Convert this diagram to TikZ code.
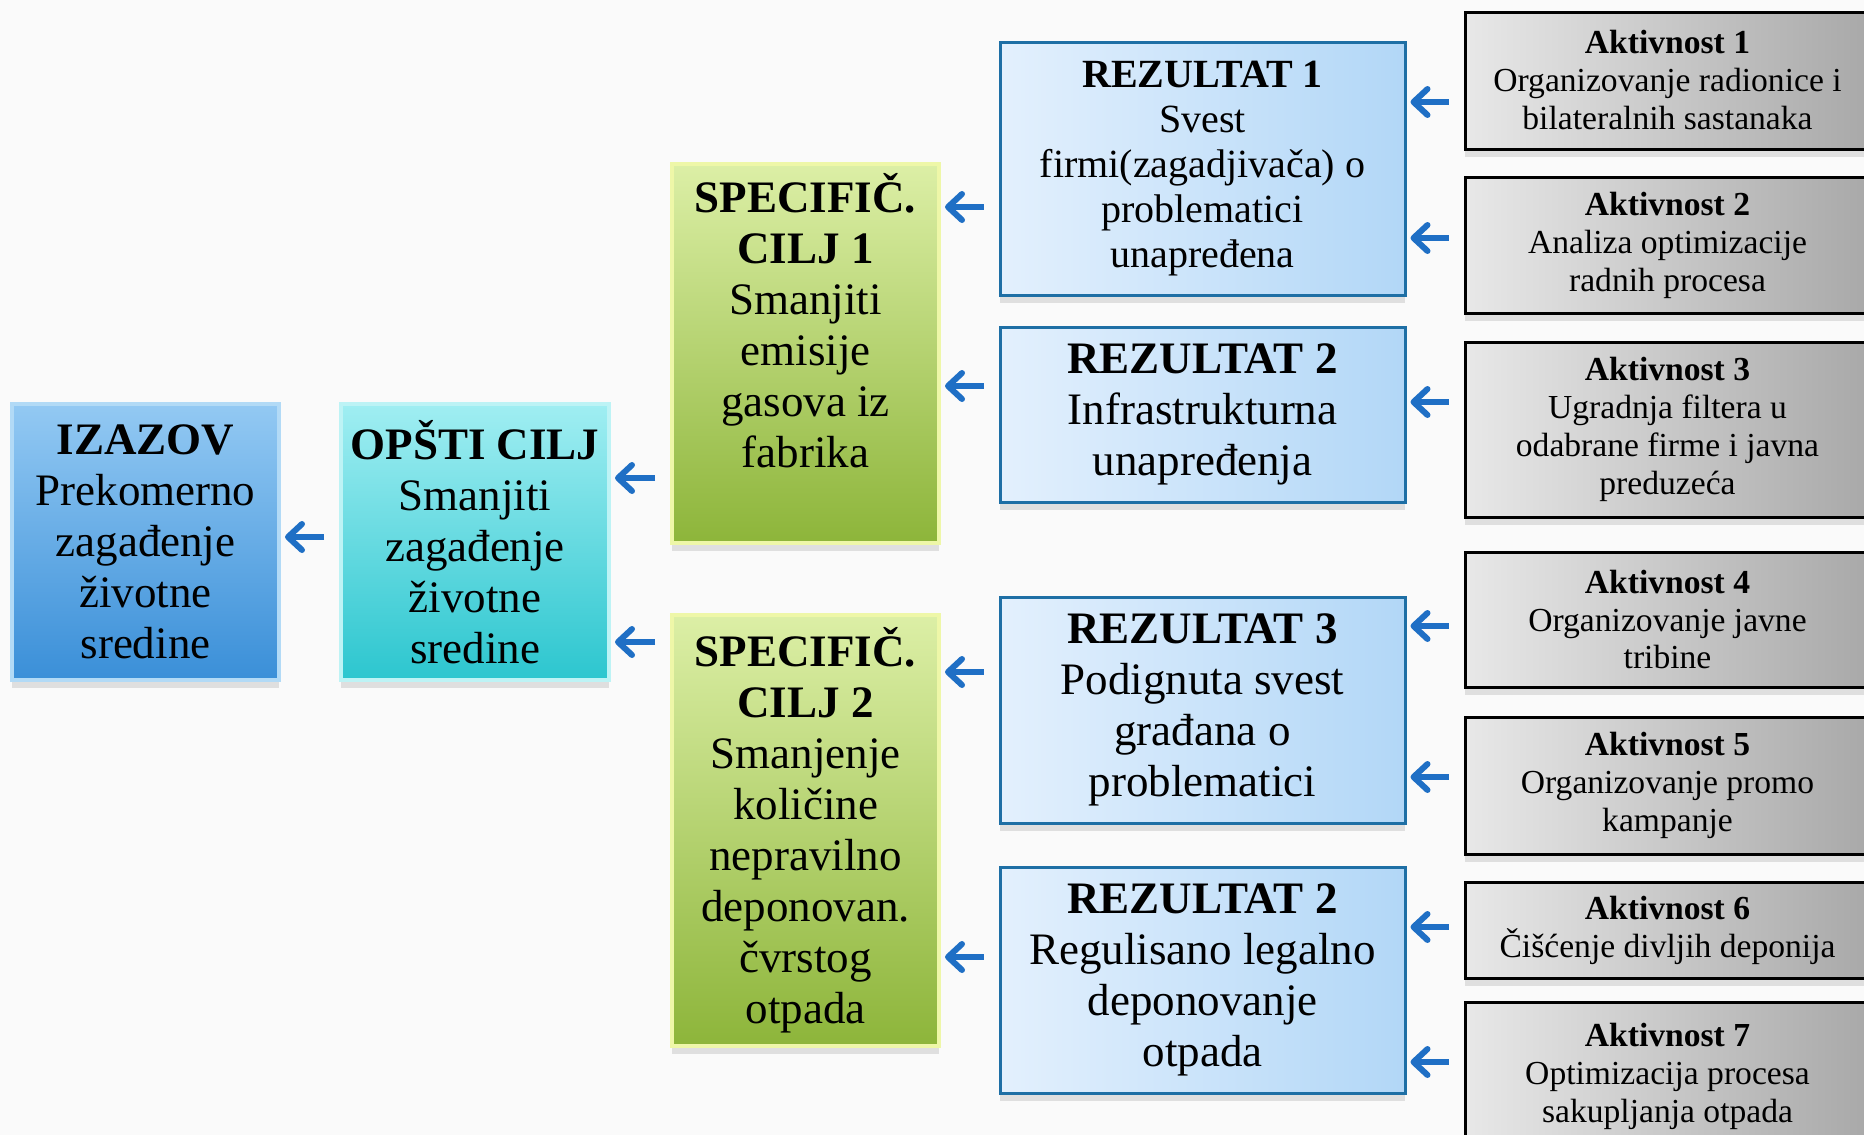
\documentclass[tikz,border=0pt]{standalone}
\usepackage{fontspec}
\setmainfont{Liberation Serif}
\usepackage{tikz}
\usetikzlibrary{positioning,shadows,arrows.meta}

\definecolor{arrowblue}{HTML}{1F6FC5}
\definecolor{izTop}{HTML}{93C9F3}
\definecolor{izBot}{HTML}{3A8FD8}
\definecolor{izGlow}{HTML}{B2DAF6}
\definecolor{opTop}{HTML}{A0EEF2}
\definecolor{opBot}{HTML}{2CC6CF}
\definecolor{opGlow}{HTML}{BDF3F5}
\definecolor{scTop}{HTML}{DCEFA6}
\definecolor{scBot}{HTML}{8DB53A}
\definecolor{scGlow}{HTML}{EEF7A8}
\definecolor{rezLeft}{HTML}{E3F0FD}
\definecolor{rezRight}{HTML}{B2D7F7}
\definecolor{rezLine}{HTML}{1E6FA5}

\begin{document}
\begin{tikzpicture}[x=0.5pt, y=-0.5pt,
    box/.style={align=center, inner sep=0pt,
        drop shadow={shadow xshift=0pt, shadow yshift=-4pt, opacity=0.22}},
    big/.style={font=\fontsize{22.5}{25.5}\selectfont},
    izbox/.style={box, big, top color=izTop, bottom color=izBot, draw=izGlow, line width=2pt},
    opbox/.style={box, big, top color=opTop, bottom color=opBot, draw=opGlow, line width=2pt},
    scbox/.style={box, big, top color=scTop, bottom color=scBot, draw=scGlow, line width=2pt},
    rezbox/.style={box, big, left color=rezLeft, right color=rezRight, draw=rezLine, line width=1.5pt,
        minimum width=202.5pt},
    aktbox/.style={box, font=\fontsize{16.8}{19}\selectfont, left color=gray!18, middle color=gray!5,
        right color=gray!68, draw=black, line width=1.5pt, minimum width=202.5pt},
    arr/.style={draw=arrowblue, line width=3pt, -{Straight Barb[length=7pt, width=13pt, round]},
        shorten <=7.5pt, shorten >=2pt}]

    % Page frame
    \clip (0,0) rectangle (1864,1135);
    \fill[gray!4] (0,0) rectangle (1864,1135);

    % Problem and overall goal
    \node[izbox, minimum width=133.5pt, minimum height=138pt] (iz) at (145.5,542)
        {\textbf{IZAZOV}\\Prekomerno\\zagađenje\\životne\\sredine};
    \node[opbox, minimum width=134pt, minimum height=138pt] (op) at (475,542)
        {\textbf{OPŠTI CILJ}\\Smanjiti\\zagađenje\\životne\\sredine};

    % Specific goals
    \node[scbox, minimum width=133.5pt, minimum height=189.5pt] (sc1) at (805.5,353.5)
        {\textbf{SPECIFIČ.}\\\textbf{CILJ 1}\\Smanjiti\\emisije\\gasova iz\\fabrika\\ \strut};
    \node[scbox, minimum width=133.5pt, minimum height=215.5pt] (sc2) at (805.5,830.5)
        {\textbf{SPECIFIČ.}\\\textbf{CILJ 2}\\Smanjenje\\količine\\nepravilno\\deponovan.\\čvrstog\\otpada};

    % Results
    \node[rezbox, minimum height=126.5pt, font=\fontsize{20}{22.5}\selectfont] (r1) at (1202.5,168.5)
        {\textbf{REZULTAT 1}\\Svest\\firmi(zagadjivača) o\\problematici\\unapređena};
    \node[rezbox, minimum height=87.5pt] (r2) at (1202.5,414.5)
        {\textbf{REZULTAT 2}\\Infrastrukturna\\unapređenja};
    \node[rezbox, minimum height=113pt] (r3) at (1202.5,710)
        {\textbf{REZULTAT 3}\\Podignuta svest\\građana o\\problematici};
    \node[rezbox, minimum height=113pt] (r4) at (1202.5,980)
        {\textbf{REZULTAT 2}\\Regulisano legalno\\deponovanje\\otpada};

    % Activities
    \node[aktbox, minimum height=68.5pt] (a1) at (1667.5,80.5)
        {\textbf{Aktivnost 1}\\Organizovanje radionice i\\bilateralnih sastanaka};
    \node[aktbox, minimum height=68pt] (a2) at (1667.5,245)
        {\textbf{Aktivnost 2}\\Analiza optimizacije\\radnih procesa};
    \node[aktbox, minimum height=87.5pt] (a3) at (1667.5,429.5)
        {\textbf{Aktivnost 3}\\Ugradnja filtera u\\odabrane firme i javna\\preduzeća};
    \node[aktbox, minimum height=67.5pt] (a4) at (1667.5,619.5)
        {\textbf{Aktivnost 4}\\Organizovanje javne\\tribine};
    \node[aktbox, minimum height=68.5pt] (a5) at (1667.5,785.5)
        {\textbf{Aktivnost 5}\\Organizovanje promo\\kampanje};
    \node[aktbox, minimum height=48pt] (a6) at (1667.5,930)
        {\textbf{Aktivnost 6}\\Čišćenje divljih deponija};
    \node[aktbox, minimum height=74pt] (a7) at (1667.5,1076)
        {\textbf{Aktivnost 7}\\Optimizacija procesa\\sakupljanja otpada};

    % Arrows from each box back to the one it supports
    \foreach \from/\to/\y in {op/iz/537, sc1/op/478, sc2/op/642,
            r1/sc1/207, r2/sc1/386, r3/sc2/672, r4/sc2/957,
            a1/r1/102, a2/r1/238, a3/r2/402, a4/r3/626, a5/r3/777, a6/r4/927, a7/r4/1062}
        \draw[arr] (\from.west |- 0,\y) -- (\to.east |- 0,\y);

\end{tikzpicture}
\end{document}
